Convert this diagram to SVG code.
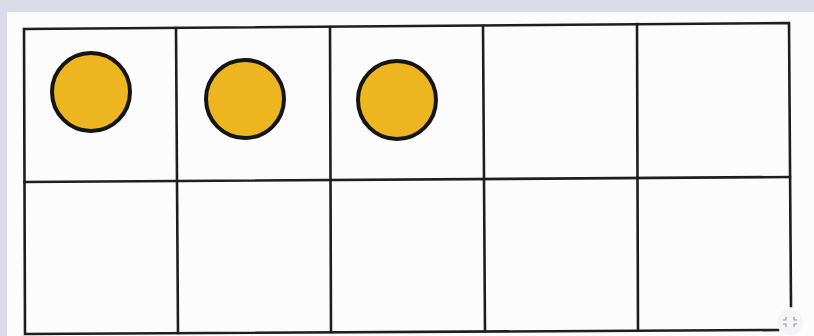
<svg xmlns="http://www.w3.org/2000/svg" width="814" height="336" viewBox="0 0 814 336">
<style>
.g{stroke:#1e1e1e;stroke-width:2.6;fill:none;stroke-linecap:square}
.c{fill:#EDB520;stroke:#151515;stroke-width:4}
</style>
<rect x="0" y="0" width="814" height="336" fill="#d9dbe8"/>
<rect x="7" y="12" width="807" height="324" fill="#fcfcfd"/>
<g id="grid">
<path class="g" d="M24,29 L789,23 L791,306 M24,29 L25,334 L778,330"/>
<path class="g" d="M24.5,182 L790,177"/>
<path class="g" d="M176,28 L178,333 M330,27 L331,332 M483,26 L485,331 M637,24 L638,330"/>
</g>
<g id="counter1"><circle class="c" cx="91" cy="92" r="39"/></g>
<g id="counter2"><circle class="c" cx="245" cy="99" r="39"/></g>
<g id="counter3"><circle class="c" cx="397" cy="100" r="39"/></g>
<g id="expand">
<circle cx="790" cy="322" r="13" fill="#f4f4f6"/>
<path d="M786,317 v3 h-3 M794,317 v3 h3 M786,327 v-3 h-3 M794,327 v-3 h3" stroke="#9a9aa2" stroke-width="1.2" fill="none"/>
</g>
</svg>
